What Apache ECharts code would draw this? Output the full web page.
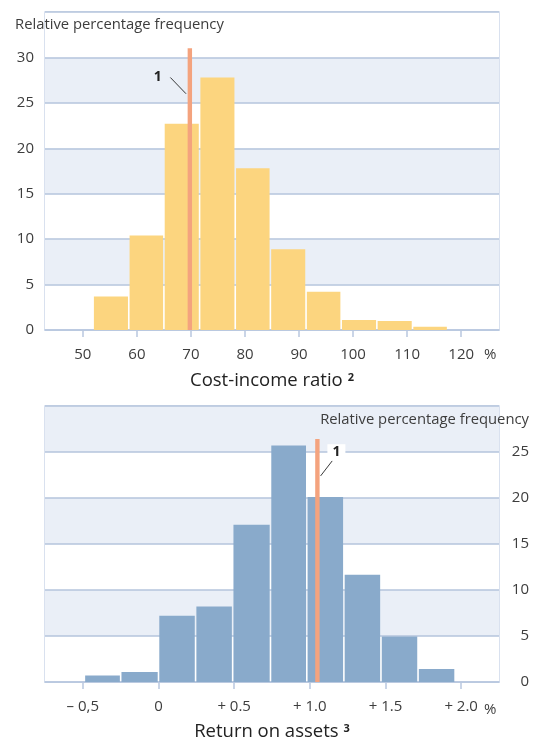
<!DOCTYPE html>
<html>
<head>
<meta charset="utf-8">
<script src="https://cdn.jsdelivr.net/npm/echarts@6/dist/echarts.min.js"></script>
<style>
  html, body { margin: 0; padding: 0; background: #ffffff; }
  #chart { width: 536px; height: 744px; }
</style>
</head>
<body>
<div id="chart"></div>
<script>
// Upper panel: cost-income ratio distribution (bin edges in %, frequency in %)
const cirBinEdges = [51.9, 58.5, 65.0, 71.6, 78.2, 84.7, 91.3, 97.8, 104.4, 111.0, 117.5];
const cirFrequency = [3.7, 10.4, 22.7, 27.8, 17.8, 8.9, 4.2, 1.1, 1.0, 0.35];
const cirTickValues = [50, 60, 70, 80, 90, 100, 110, 120];
const cirTickLabels = ['50', '60', '70', '80', '90', '100', '110', '120'];
const cirMarker = { value: 69.8, height: 31, calloutAt: 26, label: '1' };

// Lower panel: return on assets distribution
const roaBinEdges = [-0.49, -0.25, 0.0, 0.245, 0.49, 0.74, 0.98, 1.225, 1.47, 1.715, 1.96];
const roaFrequency = [0.7, 1.1, 7.2, 8.2, 17.1, 25.7, 20.1, 11.65, 4.95, 1.4];
const roaTickValues = [-0.5, 0, 0.5, 1.0, 1.5, 2.0];
const roaTickLabels = ['\u2013 0,5', '0', '+ 0.5', '+ 1.0', '+ 1.5', '+ 2.0'];
const roaMarker = { value: 1.05, height: 26.4, calloutAt: 22.4, label: '1' };

const yAxisTitle = 'Relative percentage frequency';
const cirTitle = 'Cost-income ratio{sup|2}';
const roaTitle = 'Return on assets{sup|3}';

const FONT = '"Open Sans", "Noto Sans", sans-serif';
const TEXT = '#3d3d3d';
const GRID_LINE = '#b4c4dd';
const BAND = '#eaeff7';
const FRAME = '#cdd8ea';
const MARKER = '#f4a37e';

function binsFrom(edges, freq) {
  return freq.map((f, i) => [edges[i], edges[i + 1], f]);
}

function labelFor(values, labels) {
  return function (v) {
    const i = values.findIndex(t => Math.abs(t - v) < 1e-9);
    return i >= 0 ? labels[i] : '';
  };
}

// Histogram bins drawn from their edges on the value axis
function renderBin(params, api) {
  const a = api.coord([api.value(0), 0]);
  const b = api.coord([api.value(1), api.value(2)]);
  return {
    type: 'rect',
    shape: { x: a[0] + 0.8, y: b[1], width: b[0] - a[0] - 1.6, height: a[1] - b[1] },
    style: { fill: api.visual('color') }
  };
}

// Vertical reference line with a numbered callout
function markerRenderer(marker, callout) {
  return function (params, api) {
    const base = api.coord([api.value(0), 0]);
    const top = api.coord([api.value(0), api.value(1)]);
    const anchor = api.coord([api.value(0), api.value(2)]);
    const x = base[0];
    const textStyle = {
      text: marker.label,
      fill: '#222',
      font: 'bold 14px ' + FONT,
      align: 'center',
      verticalAlign: 'middle'
    };
    if (callout.background) {
      textStyle.backgroundColor = callout.background;
      textStyle.padding = [1, 5, 1, 5];
    }
    return {
      type: 'group',
      children: [
        {
          type: 'rect',
          shape: { x: x - 2.2, y: top[1], width: 4.4, height: base[1] - top[1] },
          style: { fill: MARKER }
        },
        {
          type: 'line',
          shape: { x1: x + callout.x1, y1: anchor[1], x2: x + callout.x2, y2: anchor[1] + callout.dy },
          style: { stroke: '#222', lineWidth: 0.9 }
        },
        {
          type: 'text',
          x: x + callout.lx,
          y: anchor[1] + callout.ly,
          style: textStyle
        }
      ]
    };
  };
}

function xAxisFor(gridIndex, min, max, values, labels, title, gap) {
  return {
    type: 'value',
    gridIndex: gridIndex,
    min: min,
    max: max,
    axisLine: { show: true, onZero: false, lineStyle: { color: '#b9c8e0', width: 1.5 } },
    axisTick: { show: true, customValues: values, length: 7, lineStyle: { color: '#b9c8e0', width: 1.5 } },
    axisLabel: {
      customValues: values,
      formatter: labelFor(values, labels),
      margin: 17,
      fontSize: 15,
      lineHeight: 16,
      color: TEXT,
      fontFamily: FONT
    },
    splitLine: { show: false },
    name: title,
    nameLocation: 'middle',
    nameGap: gap,
    nameTextStyle: {
      fontSize: 18.5,
      lineHeight: 22,
      color: '#222',
      fontFamily: FONT,
      rich: {
        sup: { fontSize: 11, fontWeight: 'bold', color: '#222', fontFamily: FONT, padding: [0, 0, 7, 5] }
      }
    }
  };
}

function yAxisFor(gridIndex, max, position, labelMargin, labelAlign) {
  return {
    type: 'value',
    gridIndex: gridIndex,
    position: position,
    min: 0,
    max: max,
    interval: 5,
    axisLine: { show: false },
    axisTick: { show: false },
    axisLabel: {
      showMaxLabel: false,
      margin: labelMargin,
      align: labelAlign,
      fontSize: 15,
      color: TEXT,
      fontFamily: FONT
    },
    splitLine: { show: true, lineStyle: { color: GRID_LINE, width: 1.5 } },
    splitArea: { show: true, areaStyle: { color: ['#ffffff', BAND] } }
  };
}

const chart = echarts.init(document.getElementById('chart'), null, { renderer: 'canvas' });

const captionStyle = { fontSize: 14.8, fontWeight: 'normal', color: TEXT, fontFamily: FONT, lineHeight: 16 };
const unitStyle = { fontSize: 15, fontWeight: 'normal', color: TEXT, fontFamily: FONT, lineHeight: 16 };

chart.setOption({
  animation: false,
  backgroundColor: '#ffffff',
  title: [
    { text: yAxisTitle, left: 15, top: 17, padding: 0, textStyle: captionStyle },
    { text: '%', left: 484, top: 347, padding: 0, textStyle: unitStyle },
    { text: yAxisTitle, right: 7, top: 412, padding: 0, textStyle: captionStyle },
    { text: '%', left: 484, top: 702, padding: 0, textStyle: unitStyle }
  ],
  grid: [
    { left: 45, top: 12, width: 454, height: 318, show: true, borderColor: FRAME, borderWidth: 1.5, backgroundColor: 'transparent' },
    { left: 45, top: 406, width: 454, height: 279, show: true, borderColor: FRAME, borderWidth: 1.5, backgroundColor: 'transparent' }
  ],
  xAxis: [
    xAxisFor(0, 43, 127, cirTickValues, cirTickLabels, cirTitle, 40),
    xAxisFor(1, -0.75, 2.25, roaTickValues, roaTickLabels, roaTitle, 39)
  ],
  yAxis: [
    yAxisFor(0, 35, 'left', 11, 'right'),
    yAxisFor(1, 30, 'right', 30, 'right')
  ],
  series: [
    {
      type: 'custom',
      xAxisIndex: 0, yAxisIndex: 0,
      itemStyle: { color: '#fcd57f' },
      renderItem: renderBin,
      encode: { x: [0, 1], y: 2 },
      data: binsFrom(cirBinEdges, cirFrequency),
      silent: true
    },
    {
      type: 'custom',
      xAxisIndex: 0, yAxisIndex: 0,
      renderItem: markerRenderer(cirMarker, { x1: -3.8, x2: -19.5, dy: -16.3, lx: -32, ly: -17 }),
      encode: { x: 0, y: 1 },
      data: [[cirMarker.value, cirMarker.height, cirMarker.calloutAt]],
      silent: true,
      z: 5
    },
    {
      type: 'custom',
      xAxisIndex: 1, yAxisIndex: 1,
      itemStyle: { color: '#89aacb' },
      renderItem: renderBin,
      encode: { x: [0, 1], y: 2 },
      data: binsFrom(roaBinEdges, roaFrequency),
      silent: true
    },
    {
      type: 'custom',
      xAxisIndex: 1, yAxisIndex: 1,
      renderItem: markerRenderer(roaMarker, { x1: 3.2, x2: 14.8, dy: -15, lx: 19, ly: -23.7, background: '#ffffff' }),
      encode: { x: 0, y: 1 },
      data: [[roaMarker.value, roaMarker.height, roaMarker.calloutAt]],
      silent: true,
      z: 5
    }
  ]
});
</script>
</body>
</html>
